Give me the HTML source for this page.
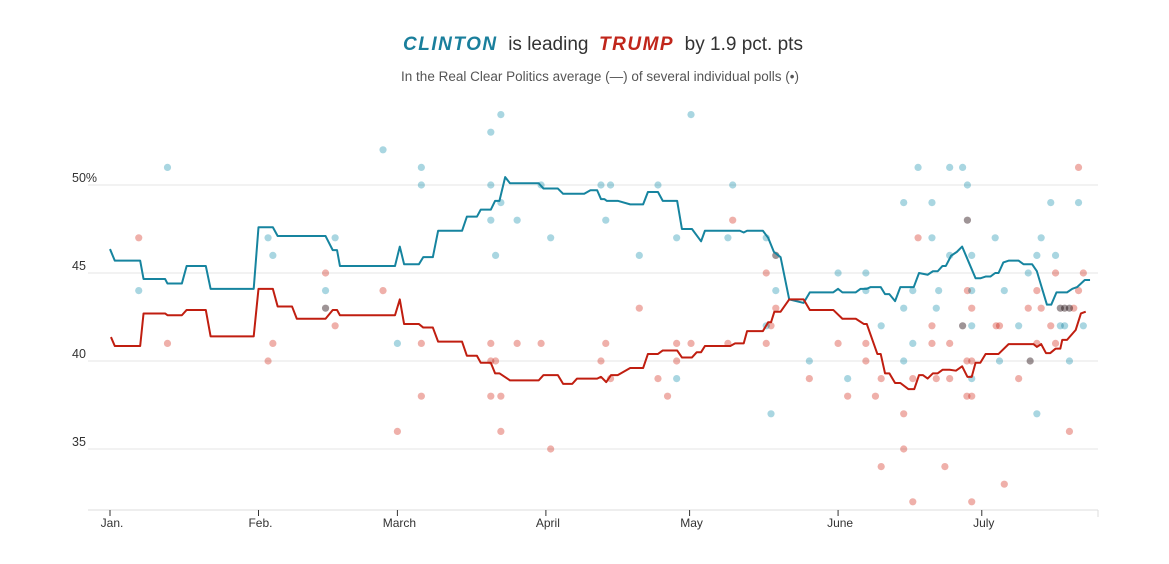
<!DOCTYPE html>
<html><head><meta charset="utf-8"><style>
body{margin:0;background:#fff;width:1169px;height:564px;overflow:hidden;font-family:"Liberation Sans",sans-serif}
#title{position:absolute;top:34px;left:0;width:1206px;text-align:center;font-size:19px;color:#333}
#title b{font-style:italic;letter-spacing:1.5px;font-weight:bold}
#sub{position:absolute;top:69px;left:0;width:1200px;text-align:center;font-size:13.5px;color:#555}
svg{position:absolute;left:0;top:0}
</style></head><body>
<div id="title"><b style="color:#1a7f9c">CLINTON</b>&nbsp; is leading&nbsp; <b style="color:#c0261b">TRUMP</b>&nbsp; by 1.9 pct. pts</div>
<div id="sub">In the Real Clear Politics average (—) of several individual polls (•)</div>
<svg id="chart" width="1169" height="564"></svg>
<script>
const yTicks=[50,45,40,35];
const yTickLabels=["50%","45","40","35"];
const months=["Jan.","Feb.","March","April","May","June","July"];
const monthDays=[0,31,60,91,121,152,182];
const clintonDays=[0,1,6.3,7,11.5,12,15,16,20,21,30,31,34,35,45,46.5,47.4,48,59.5,60.5,61.4,64.5,65.4,67.4,68.5,73.5,74.5,76.6,77.4,79.5,80.4,81.3,82.5,83.5,89.5,90.5,93.5,94.6,99,100.3,101.7,102.5,103.2,103.7,106,108.6,111.3,112.3,114.4,115.4,118.4,119.4,121.5,123.4,124.2,131.5,132.3,133,136.3,137.4,138.6,140,141.8,144.8,146.1,151,152,152.9,155.7,156.7,158,158.8,160.9,161.8,162.7,163.9,165,167.8,168.9,170.7,171.8,172.8,173.8,174.5,175.6,176.8,177.9,179.3,180.7,181.7,182.8,183.8,184.8,185.5,186.5,187.6,189.7,190.7,192.5,193.5,195.6,196.5,197.6,199.8,200.9,201.9,203.5,204.6];
const clintonVals=[46.36,45.7,45.7,44.66,44.66,44.4,44.4,45.4,45.4,44.1,44.1,47.6,47.6,47.1,47.1,46.3,46.3,45.4,45.4,46.5,45.5,45.5,45.9,45.9,47.4,47.4,48.2,48.2,48.6,48.6,49.1,49.1,50.45,50.1,50.1,49.8,49.8,49.5,49.5,49.7,49.7,49.2,49.2,49.1,49.1,48.9,48.9,49.6,49.6,49.1,49.1,47.5,47.5,46.8,47.4,47.4,47.3,47.4,47.4,47,46.2,45.9,43.5,43.3,43.9,43.9,44.1,43.9,43.9,44.1,44.1,44.2,44.2,43.8,43.8,43.4,44.2,44.2,45,44.9,45.1,45.1,45.4,45.4,45.98,46.2,46.5,45.6,44.7,44.7,44.8,44.8,45,45,45.6,45.7,45.7,45.5,45.5,45.1,43.2,43.2,43.9,43.9,44.1,44.2,44.6,44.6];
const trumpDays=[0.2,1,6.3,7,11.5,12,15,16,20,21,30,31,34,35,38,39,45,46.5,47.4,48,59.5,60.5,61.4,64.5,65.4,67.4,68.5,73.5,74.5,76.6,77.4,79.5,80.4,81.3,83.5,89.5,90.5,93.5,94.6,96.5,97.5,101.7,102.5,103.6,104.6,106,108.6,111.3,112.3,114.4,115.4,118.4,119.4,121.5,122.5,123.4,124.2,129.5,130.5,132.3,133,136.3,137.4,138,138.7,140,141.8,144.8,146.1,151,152.9,155.7,157.4,158,160.2,160.9,161.8,162.7,163.9,165,166.7,167.9,168.9,169.7,170.7,171.8,172.8,173.8,175.3,176.6,177.9,179,179.9,180.7,181.7,182.8,185.5,187.6,192.8,193.5,194.4,195.4,196.3,197.4,198.4,198.8,199.8,201.6,202.7,203.7,204.6];
const trumpVals=[41.36,40.85,40.85,42.7,42.7,42.6,42.6,42.9,42.9,41.4,41.4,44.1,44.1,43.1,43.1,42.4,42.4,42.9,42.9,42.6,42.6,43.5,42.1,42.1,41.9,41.9,41.1,41.1,40.3,40.3,39.9,39.9,39.3,39.3,38.9,38.9,39.2,39.2,38.7,38.7,39,39,39.1,38.8,39.2,39.2,39.6,39.6,40.4,40.4,40.6,40.6,40.2,40.2,40.5,40.5,40.85,40.85,41,41,41.7,41.7,42.2,42.2,42.8,42.8,43.5,43.5,42.9,42.9,42.4,42.4,42.1,42.1,40.4,40.4,39.3,39.3,38.75,38.75,38.4,38.4,39.2,39.2,39,39.3,39.3,39.5,39.5,39.45,39.7,39.1,39.1,39.9,39.9,40.4,40.4,40.96,40.96,40.8,40.96,40.45,40.45,40.7,40.7,41.2,41.2,41.76,42.7,42.8];
const clintonPollDays=[6,12,33,34,45,45,47,57,60,65,65,79.5,81.6,79.5,79.5,81.6,80.5,85,90,92,102.5,104.5,103.5,110.5,114.4,121.3,118.3,118.3,129,130,137,138,139,137,139,146,152,154,157.8,157.8,161,165.7,168.7,165.7,165.7,167.6,167.6,171.6,171.6,172.5,173,175.3,175.3,178,178,179,179,179.9,179.9,179.9,179.9,184.8,185.7,186.7,189.7,191.7,193.5,193.5,194.4,196.4,197.4,198.4,199.3,200.3,202.2,203.2,192.1,198.4,199.3,200.3];
const clintonPollVals=[44,51,47,46,44,43,47,52,41,51,50,53,54,50,48,49,46,48,50,47,50,50,48,46,50,54,47,39,47,50,47,37,44,42,46,40,45,39,45,44,42,49,51,43,40,44,41,49,47,43,44,51,46,51,42,50,48,46,44,42,39,47,40,44,42,45,46,37,47,49,46,42,42,40,49,42,40,43,43,43];
const trumpPollDays=[6,12,33,34,45,45,47,57,60,65,65,79.5,79.5,80.5,79.5,81.6,81.6,85,90,92,102.5,103.5,104.5,110.5,114.4,118.3,118.3,121.3,116.4,129,130,137,137,138,139,139,146,152,154,157.8,157.8,159.8,161,161,165.7,165.7,167.6,167.6,168.7,171.6,171.6,172.5,174.3,175.3,175.3,178,178.9,178.9,179.9,179,179,179.9,179.9,179.9,185,185.7,186.7,189.7,191.7,192.1,193.5,193.5,194.4,196.4,197.4,197.4,198.4,199.3,200.3,201.2,200.3,202.2,202.2,203.2];
const trumpPollVals=[47,41,40,41,45,43,42,44,36,41,38,41,40,40,38,38,36,41,41,35,40,41,39,43,39,41,40,41,38,41,48,45,41,42,43,46,39,41,38,41,40,38,39,34,37,35,39,32,47,42,41,39,34,41,39,42,40,38,38,48,44,43,40,32,42,42,33,39,43,40,44,41,43,42,45,41,43,43,43,43,36,51,44,45];

const NS="http://www.w3.org/2000/svg";
const svg=document.getElementById('chart');
const X0=88,X1=1098,AXY=510;
function x(d){return 110+d*4.79;}
function y(v){return 185+(50-v)*17.6;}
function mk(t,a){const e=document.createElementNS(NS,t);for(const k in a)e.setAttribute(k,a[k]);svg.appendChild(e);return e;}

yTicks.forEach((v,i)=>{
  const g=mk('line',{x1:X0,x2:X1,y1:y(v),y2:y(v),stroke:'#e6e6e6','stroke-width':1});
  
  
  const t=mk('text',{x:72,y:y(v)-3,'font-size':12.5,fill:'#333','font-family':'Liberation Sans, sans-serif'});
  t.textContent=yTickLabels[i];
  
  
});
const ax=mk('line',{x1:X0,x2:X1,y1:AXY,y2:AXY,stroke:'#ddd','stroke-width':1});


const et=mk('line',{x1:X1,x2:X1,y1:AXY,y2:AXY+7,stroke:'#ddd'});


months.forEach((m,i)=>{
  const tx=x(monthDays[i]);
  const tk=mk('line',{x1:tx,x2:tx,y1:AXY,y2:AXY+6,stroke:'#333'});
  
  
  const t=mk('text',{x:tx+2,y:AXY+17,'text-anchor':'middle','font-size':12,fill:'#333','font-family':'Liberation Sans, sans-serif'});
  t.textContent=m;
  
  
});
function dots(days,vals,col,name){
  days.forEach((d,i)=>{
    const c=mk('circle',{cx:x(d),cy:y(vals[i]),r:3.6,fill:col,style:'mix-blend-mode:multiply'});
    
    
  });
}
dots(clintonPollDays,clintonPollVals,'#a9d6e1','clinton-poll-dot');
dots(trumpPollDays,trumpPollVals,'#efb0aa','trump-poll-dot');
function line(days,vals,col,name){
  const p=mk('polyline',{points:days.map((d,i)=>x(d)+','+y(vals[i])).join(' '),fill:'none',stroke:col,'stroke-width':2,'stroke-linejoin':'round'});
  
  
}
line(clintonDays,clintonVals,'#16849f','clinton-average-line');
line(trumpDays,trumpVals,'#c01e10','trump-average-line');
</script>
</body></html>
